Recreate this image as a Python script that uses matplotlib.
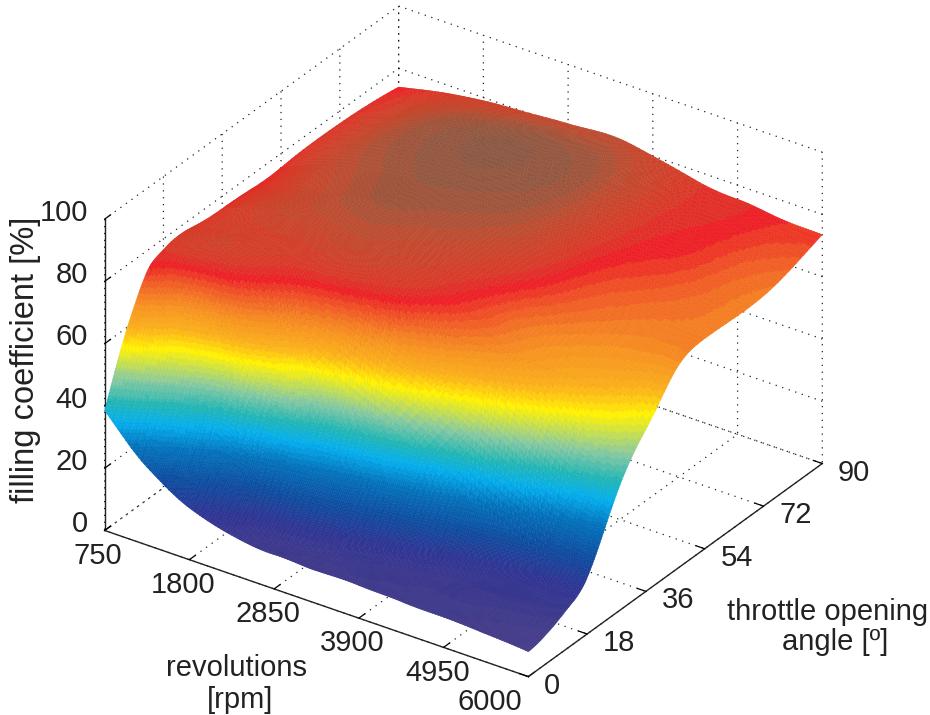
import matplotlib
matplotlib.use("Agg")
import matplotlib.pyplot as plt
import matplotlib.tri as mtri
import numpy as np
from matplotlib.colors import LinearSegmentedColormap

plt.rcParams["font.family"] = ["Liberation Sans", "DejaVu Sans"]
plt.rcParams["grid.linestyle"] = (0, (1, 4.5))
plt.rcParams["grid.color"] = "#222222"
plt.rcParams["grid.linewidth"] = 0.9

# data
rpm = [750, 1275, 1800, 2325, 2850, 3375, 3900, 4425, 4950, 5475, 6000]
angle = [0, 4.5, 9, 13.5, 18, 27, 36, 45, 54, 72, 90]
filling = [
    [38.5, 53, 65, 74, 76.5, 77, 76, 75.5, 75.5, 76, 74],
    [25, 39, 52, 64, 75, 79, 80, 80, 81, 81, 77],
    [16.6, 26, 40, 58, 71, 78, 81, 83, 84, 85, 79],
    [12.5, 17, 29, 48, 62, 77, 82, 85, 86, 87, 80],
    [11, 14, 24, 37, 53, 75, 81, 84, 86, 88, 81],
    [10.5, 12, 19, 31, 47, 71, 78, 82, 85, 87, 82],
    [10.5, 12, 15, 25, 40, 65, 73, 77, 81, 84, 80],
    [10, 11, 13, 19, 32, 59, 67, 71, 74, 77, 77],
    [9.7, 11, 12.5, 15, 25, 52, 63, 67, 70, 74.5, 75.5],
    [9, 10, 12, 14, 20, 44, 59, 65, 68, 71, 74],
    [8, 9, 11, 13.5, 18, 38, 52, 64, 67.5, 67.5, 73.5],
]
rpm_ticks = [750, 1800, 2850, 3900, 4950, 6000]
angle_ticks = [0, 18, 36, 54, 72, 90]
filling_ticks = [0, 20, 40, 60, 80, 100]

# colours along the filling coefficient, the print look of the picture
color_z = [0, 5, 15, 22, 30, 36, 41, 47, 55, 60, 65, 68, 72, 75, 77, 80, 83, 85, 87, 89]
color_hex = ["#50437f", "#4f4285", "#2e3192", "#0b4a9e", "#0072bc", "#00aeef",
             "#1fb5b5", "#88c9a0", "#fff200", "#fbb017", "#f7941d", "#f47b20",
             "#ef4d23", "#ed1c24", "#dc3527", "#cf4029", "#c04a2e", "#ab5136", "#97553d", "#8b5742"]
cmap = LinearSegmentedColormap.from_list(
    "filling", [(z / 89, c) for z, c in zip(color_z, color_hex)], N=64)

fig = plt.figure(figsize=(9.3, 7.15), dpi=100)
ax = fig.add_axes([57.8 / 930, -32 / 715, 790 / 930, 790 / 715], projection="3d", proj_type="ortho")
ax.view_init(elev=30, azim=-55.4)
ax.set_box_aspect((514, 517, 359))

R, A = np.meshgrid(rpm, angle, indexing="ij")
Z = np.array(filling)
# refine the triangle mesh so the colour bands come out smooth
tri = mtri.Triangulation(R.ravel() / 6000, A.ravel() / 90)
fine, fine_z = mtri.UniformTriRefiner(tri).refine_field(Z.ravel(), subdiv=4)
fine_tri = mtri.Triangulation(fine.x * 6000, fine.y * 90, fine.triangles)
surf = ax.plot_trisurf(fine_tri, fine_z, cmap=cmap, vmin=0, vmax=89, shade=False, linewidth=0.3)
surf.set_edgecolor("face")

ax.set_xlim(750, 6000, view_margin=0)
ax.set_ylim(0, 90, view_margin=0)
ax.set_zlim(0, 100, view_margin=0)
ax.set_xticks(rpm_ticks)
ax.set_yticks(angle_ticks)
ax.set_zticks(filling_ticks)

for axis in (ax.xaxis, ax.yaxis, ax.zaxis):
    axis.set_pane_color((1, 1, 1, 0))
    axis.pane.set_edgecolor("none")
    axis.line.set_color("#222222")
    axis.line.set_linewidth(1.0)
    axis._axinfo["tick"]["inward_factor"] = 0.0
    axis._axinfo["tick"]["outward_factor"] = 0.25
    axis._axinfo["tick"]["linewidth"] = {True: 0.9, False: 0.9}

ax.zaxis.set_ticks_position("lower")
ax.tick_params(labelsize=21, labelcolor="#222222")
ax.tick_params(axis="x", pad=-1.6)
ax.tick_params(axis="y", pad=3)
ax.tick_params(axis="z", pad=-1)
for lab in ax.xaxis.get_ticklabels():
    lab.set_ha("center")
ax.xaxis.get_ticklabels()[-1].set_ha("right")
for lab in ax.yaxis.get_ticklabels():
    lab.set_ha("left")
    lab.set_va("baseline")
for lab in ax.zaxis.get_ticklabels():
    lab.set_ha("right")
    lab.set_va("baseline")

fig.text(236 / 930, 1 - 668 / 715, "revolutions", ha="center", va="center", fontsize=21, color="#222222")
fig.text(240 / 930, 1 - 700 / 715, "[rpm]", ha="center", va="center", fontsize=21, color="#222222")
fig.text(828 / 930, 1 - 612 / 715, "throttle opening", ha="center", va="center", fontsize=21, color="#222222")
fig.text(835 / 930, 1 - 642 / 715, "angle [º]", ha="center", va="center", fontsize=21, color="#222222")
fig.text(26 / 930, 1 - 360 / 715, "filling coefficient [%]", ha="center", va="center", rotation=90,
         fontsize=23.5, color="#222222")

fig.savefig("out.png", dpi=100)
